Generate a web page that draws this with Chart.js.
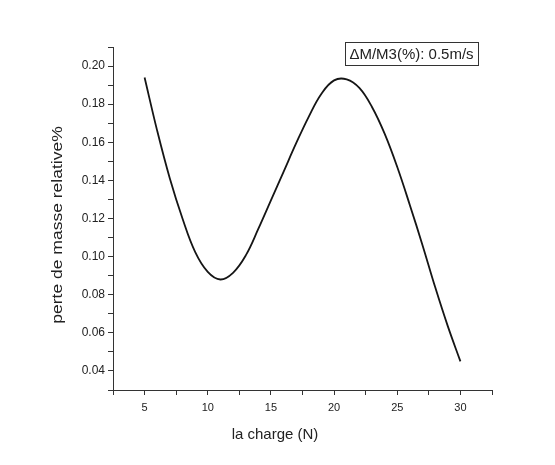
<!DOCTYPE html>
<html>
<head>
<meta charset="utf-8">
<script src="https://cdn.jsdelivr.net/npm/chart.js@4"></script>
<style>
  html, body { margin: 0; padding: 0; background: #fff; }
  #wrap { width: 555px; height: 465px; }
</style>
</head>
<body>
<div id="wrap"><canvas id="lossChart"></canvas></div>
<script>
// values
const charge = [5, 6, 7, 8, 9, 10, 11, 12, 13, 14, 15, 16, 17, 18, 19, 20, 21, 22, 23, 24, 25, 26, 27, 28, 29, 30];
const massLoss = [0.194, 0.166, 0.141, 0.12, 0.1025, 0.092, 0.088, 0.0915, 0.1005, 0.1145, 0.1295, 0.1445, 0.1595, 0.1735, 0.1855, 0.1925, 0.193, 0.1885, 0.1785, 0.1645, 0.147, 0.127, 0.106, 0.084, 0.0635, 0.045];
const seriesLabel = "\u0394M/M3(%): 0.5m/s";
const xTitle = "la charge (N)";
const yTitle = "perte de masse relative%";

const points = charge.map((x, i) => ({ x: x, y: massLoss[i] }));

// boxed legend + axis titles drawn by hand (Origin-like placement)
const decorations = {
  id: "decorations",
  afterDraw(chart) {
    const ctx = chart.ctx;
    const area = chart.chartArea;
    ctx.save();

    // legend box
    ctx.font = "15px 'Liberation Sans', Arial, sans-serif";
    const bx = area.right - 147, by = area.top - 5, bw = 133, bh = 23;
    ctx.fillStyle = "#fff";
    ctx.fillRect(bx, by, bw, bh);
    ctx.strokeStyle = "#333";
    ctx.lineWidth = 1;
    ctx.strokeRect(bx + 0.5, by + 0.5, bw, bh);
    ctx.fillStyle = "#222";
    ctx.textAlign = "center";
    ctx.textBaseline = "middle";
    ctx.fillText(seriesLabel, bx + bw / 2, by + bh / 2 + 1);

    // x title
    ctx.font = "15px 'Liberation Sans', Arial, sans-serif";
    ctx.textBaseline = "alphabetic";
    ctx.fillText(xTitle, 275, 439);

    // y title, stretched along its length like the scanned original
    ctx.translate(62, 225);
    ctx.rotate(-Math.PI / 2);
    ctx.scale(1.25, 1);
    ctx.font = "14px 'Liberation Sans', Arial, sans-serif";
    ctx.fillText(yTitle, 0, 0);
    ctx.restore();
  },
};

const ctx = document.getElementById("lossChart").getContext("2d");
new Chart(ctx, {
  type: "line",
  data: {
    datasets: [
      {
        label: seriesLabel,
        data: points,
        borderColor: "#151515",
        borderWidth: 1.8,
        pointRadius: 0,
        tension: 0.4,
        fill: false,
      },
    ],
  },
  options: {
    responsive: true,
    maintainAspectRatio: false,
    animation: false,
    layout: {
      padding: { left: 0, right: 63, top: 47, bottom: 0 },
    },
    scales: {
      x: {
        type: "linear",
        min: 2.5,
        max: 32.5,
        afterFit: (scale) => { scale.height = 75; },
        grid: { drawOnChartArea: false, drawTicks: true, tickLength: 5, color: "#333" },
        border: { display: true, color: "#333", width: 1 },
        ticks: {
          stepSize: 2.5,
          autoSkip: false,
          maxRotation: 0,
          padding: 6,
          color: "#222",
          font: { family: "'Liberation Sans', Arial", size: 11 },
          callback: (v) => (v % 5 === 0 ? String(v) : ""),
        },
      },
      y: {
        min: 0.03,
        max: 0.21,
        afterFit: (scale) => { scale.width = 113; },
        grid: { drawOnChartArea: false, drawTicks: true, tickLength: 5, color: "#333" },
        border: { display: true, color: "#333", width: 1 },
        ticks: {
          stepSize: 0.01,
          autoSkip: false,
          padding: 3,
          color: "#222",
          font: { family: "'Liberation Sans', Arial", size: 12 },
          callback: (v) => (Math.round(v * 100) % 2 === 0 ? v.toFixed(2) : ""),
        },
      },
    },
    plugins: {
      legend: { display: false },
      tooltip: { enabled: false },
    },
  },
  plugins: [decorations],
});
</script>
</body>
</html>
